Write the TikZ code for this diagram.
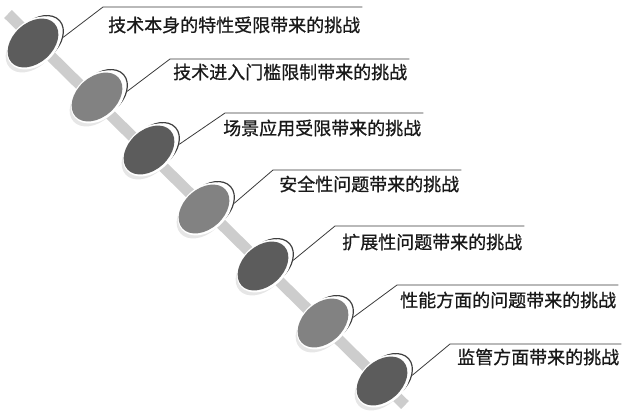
\documentclass[tikz,border=0pt]{standalone}
\usepackage{fontspec}
\newfontfamily\cjk[FakeBold=0.8]{Noto Sans CJK SC}
\usepackage{xcolor}
\definecolor{cDark}{HTML}{5C5C5C}
\definecolor{cLight}{HTML}{828282}
\definecolor{cRim}{HTML}{3E3E3E}
\definecolor{cBar}{HTML}{CDCDCD}
\definecolor{cShadow}{HTML}{E6E6E6}
\definecolor{cLine}{HTML}{3A3A3A}
\usetikzlibrary{shapes.geometric}
\tikzset{
  disc-base/.style={ellipse,rotate=42,inner sep=0pt,
    minimum width=58pt,minimum height=40pt},
  disc-shadow/.style={disc-base,fill=cShadow},
  disc-rim/.style={disc-base,draw=cRim,line width=1.2pt,fill=white},
  disc-gap/.style={disc-base,fill=white,
    minimum width=62pt,minimum height=44pt},
  disc-dark/.style={disc-base,fill=cDark},
  disc-light/.style={disc-base,fill=cLight},
  bar/.style={line width=11pt,draw=cBar},
  leader/.style={draw=cLine,line width=0.8pt},
  label-text/.style={anchor=west,inner sep=2pt,text=black!90,
    font=\cjk\fontsize{18}{20}\selectfont},
}

\begin{document}
\begin{tikzpicture}[x=1pt,y=-1pt]
  \useasboundingbox (0,0) rectangle (628,418);
  % axis behind the discs
  \coordinate (bar-top) at (8,14);
  \coordinate (bar-end) at (405,405);
  \draw[bar] (bar-top) -- (bar-end);

  % shadow, rim, white gap, disc
  \node[disc-shadow] (sh1) at (31,48) {};
  \node[disc-rim] (rim1) at (38,40) {};
  \node[disc-gap] (gap1) at (34,43) {};
  \node[disc-dark] (d1) at (33,43) {};
  \node[disc-shadow] (sh2) at (95,102) {};
  \node[disc-rim] (rim2) at (102,94) {};
  \node[disc-gap] (gap2) at (98,97) {};
  \node[disc-light] (d2) at (97,97) {};
  \node[disc-shadow] (sh3) at (147,155) {};
  \node[disc-rim] (rim3) at (154,147) {};
  \node[disc-gap] (gap3) at (150,150) {};
  \node[disc-dark] (d3) at (149,150) {};
  \node[disc-shadow] (sh4) at (202,214) {};
  \node[disc-rim] (rim4) at (209,206) {};
  \node[disc-gap] (gap4) at (205,209) {};
  \node[disc-light] (d4) at (204,209) {};
  \node[disc-shadow] (sh5) at (261,271) {};
  \node[disc-rim] (rim5) at (268,263) {};
  \node[disc-gap] (gap5) at (264,266) {};
  \node[disc-dark] (d5) at (263,266) {};
  \node[disc-shadow] (sh6) at (321,328) {};
  \node[disc-rim] (rim6) at (328,320) {};
  \node[disc-gap] (gap6) at (324,323) {};
  \node[disc-light] (d6) at (323,323) {};
  \node[disc-shadow] (sh7) at (380,386) {};
  \node[disc-rim] (rim7) at (387,378) {};
  \node[disc-gap] (gap7) at (383,381) {};
  \node[disc-dark] (d7) at (382,381) {};

  \node[label-text] (lab1) at (106,25) {技术本身的特性受限带来的挑战};
  \node[label-text] (lab2) at (171,72) {技术进入门槛限制带来的挑战};
  \node[label-text] (lab3) at (221,128) {场景应用受限带来的挑战};
  \node[label-text] (lab4) at (277,184) {安全性问题带来的挑战};
  \node[label-text] (lab5) at (340,242) {扩展性问题带来的挑战};
  \node[label-text] (lab6) at (398,300) {性能方面的问题带来的挑战};
  \node[label-text] (lab7) at (455,357) {监管方面带来的挑战};

  \coordinate (k1) at (103,7);
  \coordinate (k2) at (170,59);
  \coordinate (k3) at (225,113);
  \coordinate (k4) at (273,170);
  \coordinate (k5) at (335,226);
  \coordinate (k6) at (397,285);
  \coordinate (k7) at (450,344);
  \draw[leader] (rim1.-36) -- (k1) -- (k1 -| lab1.east);
  \draw[leader] (rim2.-36) -- (k2) -- (k2 -| lab2.east);
  \draw[leader] (rim3.-36) -- (k3) -- (k3 -| lab3.east);
  \draw[leader] (rim4.-36) -- (k4) -- (k4 -| lab4.east);
  \draw[leader] (rim5.-36) -- (k5) -- (k5 -| lab5.east);
  \draw[leader] (rim6.-36) -- (k6) -- (k6 -| lab6.east);
  \draw[leader] (rim7.-36) -- (k7) -- (k7 -| lab7.east);
\end{tikzpicture}
\end{document}
